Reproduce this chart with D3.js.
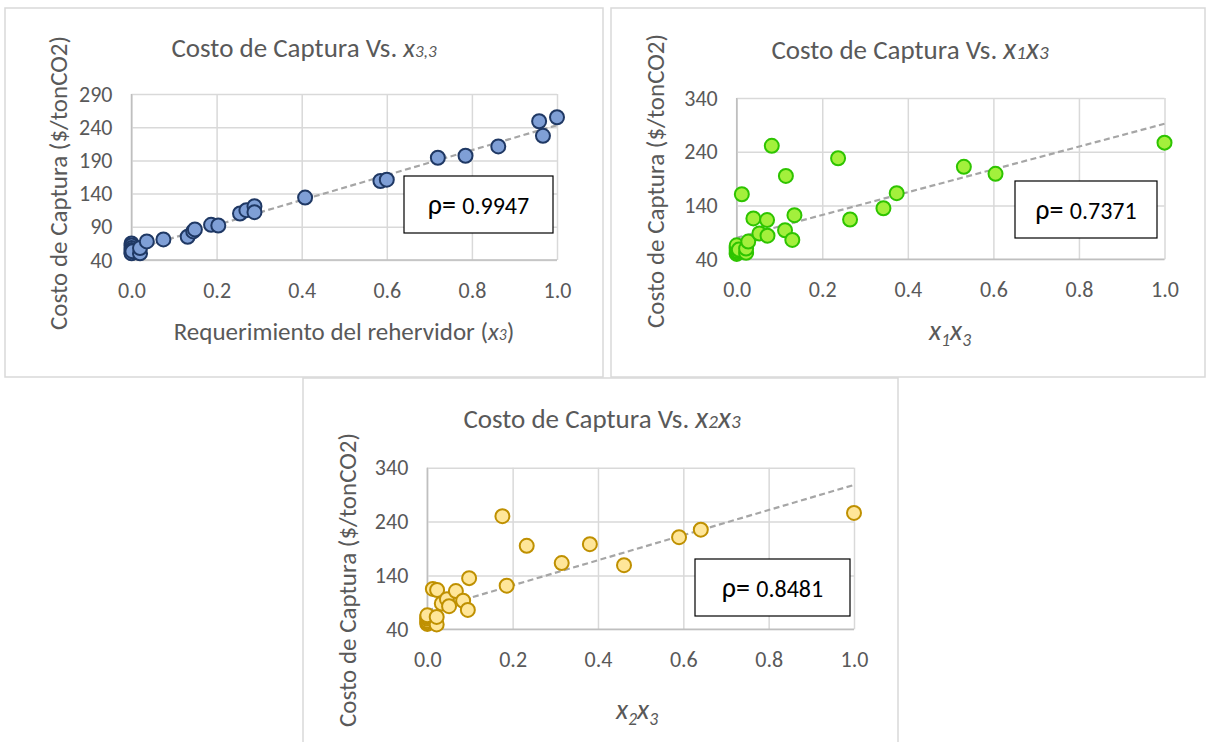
<!DOCTYPE html>
<html>
<head>
<meta charset="utf-8">
<script src="https://cdn.jsdelivr.net/npm/d3@7/dist/d3.min.js"></script>
<style>
  body { margin: 0; background: #fff; }
  svg text { font-family: Carlito, Lato, sans-serif; fill: #595959; }
</style>
</head>
<body>
<svg id="chart" width="1210" height="742"></svg>
<script>
// --- data ---
// chart A: cost vs x3
const x3Vals   = [0, 0, 0, 0, 0, 0, 0.002, 0.02, 0.02, 0.036, 0.075, 0.132, 0.145, 0.149, 0.187, 0.204, 0.255, 0.27, 0.289, 0.289, 0.408, 0.585, 0.6, 0.72, 0.785, 0.862, 0.958, 0.967, 1.0];
const x3Cost   = [65, 62, 58, 55, 52, 50, 53, 50, 58, 68, 71, 75, 83, 86, 93, 92, 110, 115, 121, 112, 134, 159, 161, 194, 197, 211, 249, 227, 255];
// chart B: cost vs x1*x3
const x1x3Vals = [0, 0, 0, 0, 0, 0, 0.005, 0.022, 0.022, 0.027, 0.012, 0.039, 0.053, 0.071, 0.072, 0.082, 0.113, 0.115, 0.13, 0.135, 0.237, 0.265, 0.343, 0.374, 0.531, 0.605, 1.0];
const x1x3Cost = [50, 53, 56, 60, 63, 66, 58, 52, 60, 73, 161, 116, 88, 113, 84, 251, 94, 195, 76, 122, 228, 114, 135, 163, 212, 199, 257];
// chart C: cost vs x2*x3
const x2x3Vals = [0, 0, 0, 0, 0, 0, 0.013, 0.022, 0.022, 0.023, 0.034, 0.046, 0.051, 0.067, 0.084, 0.095, 0.098, 0.176, 0.186, 0.233, 0.315, 0.381, 0.461, 0.59, 0.641, 1.0];
const x2x3Cost = [50, 53, 56, 60, 63, 66, 115, 49, 63, 113, 88, 96, 83, 111, 93, 76, 135, 250, 121, 195, 163, 198, 159, 211, 225, 256];

// trend lines (cost at x=0 and x=1)
const trendA = [55, 243];
const trendB = [80, 292];
const trendC = [75, 308];

const rhoLabels = ['0.9947', '0.7371', '0.8481'];
const xTicks  = [0, 0.2, 0.4, 0.6, 0.8, 1.0];
const yTicksA = [40, 90, 140, 190, 240, 290];
const yTicksB = [40, 140, 240, 340];

const svg = d3.select('#chart');

function drawPanel(cfg) {
    // outer frame of the chart
    svg.append('rect')
        .attr('x', cfg.frame[0]).attr('y', cfg.frame[1])
        .attr('width', cfg.frame[2]).attr('height', cfg.frame[3])
        .attr('fill', '#fff').attr('stroke', '#d9d9d9').attr('stroke-width', 1.5);

    const [left, top, right, bottom] = cfg.plot;
    const x = d3.scaleLinear().domain([0, 1]).range([left, right]);
    const y = d3.scaleLinear().domain([cfg.yTicks[0], cfg.yTicks[cfg.yTicks.length - 1]]).range([bottom, top]);

    // gridlines
    const gx = svg.append('g')
        .attr('transform', `translate(0,${bottom})`)
        .call(d3.axisBottom(x).tickValues(xTicks).tickSize(-(bottom - top)).tickFormat(''));
    const gy = svg.append('g')
        .attr('transform', `translate(${left},0)`)
        .call(d3.axisLeft(y).tickValues(cfg.yTicks).tickSize(-(right - left)).tickFormat(''));
    [gx, gy].forEach(g => {
        g.select('.domain').remove();
        g.selectAll('line').attr('stroke', '#d9d9d9').attr('stroke-width', 1.5);
    });
    // axis lines
    svg.append('line').attr('x1', left).attr('x2', right).attr('y1', bottom).attr('y2', bottom)
        .attr('stroke', '#bfbfbf').attr('stroke-width', 1.5);
    svg.append('line').attr('x1', left).attr('x2', left).attr('y1', top).attr('y2', bottom)
        .attr('stroke', '#bfbfbf').attr('stroke-width', 1.5);

    // tick labels
    const lx = svg.append('g')
        .attr('transform', `translate(0,${bottom})`)
        .call(d3.axisBottom(x).tickValues(xTicks).tickSize(0).tickPadding(22).tickFormat(d3.format('.1f')));
    const ly = svg.append('g')
        .attr('transform', `translate(${left},0)`)
        .call(d3.axisLeft(y).tickValues(cfg.yTicks).tickSize(0).tickPadding(19));
    [lx, ly].forEach(g => {
        g.select('.domain').remove();
        g.selectAll('text').attr('font-size', 22).attr('font-family', null).attr('fill', '#595959');
    });

    // trend line
    svg.append('line')
        .attr('x1', x(0)).attr('y1', y(cfg.trend[0]))
        .attr('x2', x(1)).attr('y2', y(cfg.trend[1]))
        .attr('stroke', '#a6a6a6').attr('stroke-width', 2.2).attr('stroke-dasharray', '6,3.5');

    // points
    const pts = cfg.xs.map((v, i) => ({ v: v, c: cfg.ys[i] }));
    svg.append('g').selectAll('circle')
        .data(pts)
        .enter()
        .append('circle')
        .attr('cx', d => x(d.v))
        .attr('cy', d => y(d.c))
        .attr('r', 7)
        .attr('fill', cfg.fill)
        .attr('stroke', cfg.stroke)
        .attr('stroke-width', 2);

    // rho box
    const b = cfg.rhoBox;
    svg.append('rect').attr('x', b[0]).attr('y', b[1]).attr('width', b[2]).attr('height', b[3])
        .attr('fill', '#fff').attr('stroke', '#000').attr('stroke-width', 1.2);
    const rt = svg.append('text')
        .attr('x', b[0] + b[2] / 2).attr('y', b[1] + b[3] / 2 + 9)
        .attr('text-anchor', 'middle').style('fill', '#000');
    rt.append('tspan').attr('font-size', 28).text('ρ= ');
    rt.append('tspan').attr('font-size', 24).text(cfg.rho);

    // title
    const t = svg.append('text')
        .attr('x', cfg.titlePos[0]).attr('y', cfg.titlePos[1])
        .attr('text-anchor', 'middle').attr('font-size', 27);
    t.append('tspan').text(cfg.titleText);
    cfg.titleVar.forEach(p => {
        t.append('tspan').attr('font-style', 'italic')
            .attr('font-size', p.sub ? cfg.titleSub : cfg.titleVarSize).text(p.s);
    });

    // y axis title
    svg.append('text')
        .attr('transform', `translate(${cfg.yTitlePos[0]},${cfg.yTitlePos[1]}) rotate(-90)`)
        .attr('text-anchor', 'middle').attr('font-size', 25)
        .text('Costo de Captura ($/tonCO2)');

    // x axis title
    const xt = svg.append('text')
        .attr('x', cfg.xTitlePos[0]).attr('y', cfg.xTitlePos[1])
        .attr('text-anchor', 'middle').attr('font-size', cfg.xTitleSize);
    cfg.xTitle.forEach(p => {
        const s = xt.append('tspan').text(p.s);
        if (p.it) s.attr('font-style', 'italic');
        if (p.sub) s.attr('font-size', cfg.xTitleSize * 0.62).attr('baseline-shift', p.shift || 0);
    });
}

drawPanel({
    frame: [5, 8, 598, 369],
    plot: [131.5, 94, 557, 260],
    yTicks: yTicksA,
    xs: x3Vals, ys: x3Cost, trend: trendA,
    fill: '#7f9fd6', stroke: '#1f3864',
    rho: rhoLabels[0], rhoBox: [404, 176, 149, 57],
    titlePos: [304, 57], titleText: 'Costo de Captura Vs. ',
    titleVar: [{ s: 'x' }, { s: '3,3', sub: true }], titleVarSize: 27, titleSub: 17,
    yTitlePos: [67, 183],
    xTitlePos: [344, 340], xTitleSize: 25,
    xTitle: [{ s: 'Requerimiento del rehervidor (' }, { s: 'x', it: true }, { s: '3', it: true, sub: true }, { s: ')' }]
});

drawPanel({
    frame: [611, 8, 594, 369],
    plot: [736.7, 98, 1164.5, 259.3],
    yTicks: yTicksB,
    xs: x1x3Vals, ys: x1x3Cost, trend: trendB,
    fill: '#a3f03c', stroke: '#2ec400',
    rho: rhoLabels[1], rhoBox: [1015, 181, 142, 57],
    titlePos: [910, 59], titleText: 'Costo de Captura Vs. ',
    titleVar: [{ s: 'x' }, { s: '1', sub: true }, { s: 'x' }, { s: '3', sub: true }], titleVarSize: 30, titleSub: 19,
    yTitlePos: [664, 181],
    xTitlePos: [950, 340], xTitleSize: 28,
    xTitle: [{ s: 'x', it: true }, { s: '1', it: true, sub: true, shift: -6 }, { s: 'x', it: true }, { s: '3', it: true, sub: true, shift: -6 }]
});

drawPanel({
    frame: [303, 378, 595, 380],
    plot: [427.3, 467.7, 854, 629.3],
    yTicks: yTicksB,
    xs: x2x3Vals, ys: x2x3Cost, trend: trendC,
    fill: '#ffe699', stroke: '#bf9000',
    rho: rhoLabels[2], rhoBox: [695, 559, 155, 57],
    titlePos: [602, 428], titleText: 'Costo de Captura Vs.  ',
    titleVar: [{ s: 'x' }, { s: '2', sub: true }, { s: 'x' }, { s: '3', sub: true }], titleVarSize: 30, titleSub: 19,
    yTitlePos: [356, 580],
    xTitlePos: [637, 719], xTitleSize: 28,
    xTitle: [{ s: 'x', it: true }, { s: '2', it: true, sub: true, shift: -6 }, { s: 'x', it: true }, { s: '3', it: true, sub: true, shift: -6 }]
});
</script>
</body>
</html>
